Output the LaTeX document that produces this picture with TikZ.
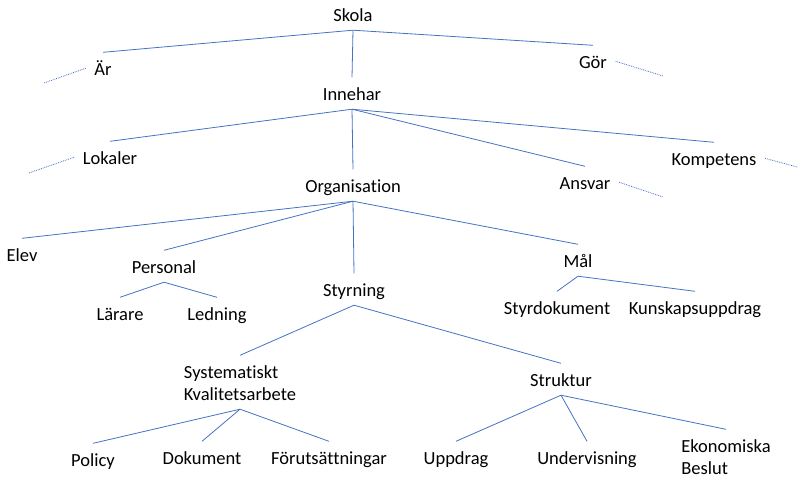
\documentclass[tikz,border=0pt]{standalone}
\usepackage{fontspec}
\setmainfont{Carlito}[Ligatures=CommonOff]
\definecolor{linkblue}{HTML}{4472C4}

\begin{document}
\begin{tikzpicture}[x=1pt,y=-1pt]

\tikzset{Label/.style = {font=\fontsize{18.5}{22}\selectfont, anchor=base, inner xsep=8.5pt, inner ysep=9pt, text height=13.5pt, text depth=0pt},
         LabelTwo/.style = {Label, align=left, text height=35.5pt},
         Link/.style = {draw=linkblue, line width=0.8pt},
         Loose/.style = {Link, densely dotted}}

\useasboundingbox (0,0) rectangle (799,477);

\node[Label] (skola) at (353,21) {Skola};
\node[Label] (ar) at (103,75) {Är};
\node[Label] (gor) at (593,68) {Gör};
\node[Label] (inne) at (352,100) {Innehar};
\node[Label] (lok) at (110,164) {Lokaler};
\node[Label] (org) at (353,192) {Organisation};
\node[Label] (ansvar) at (585,189) {Ansvar};
\node[Label] (komp) at (714,165) {Kompetens};
\node[Label] (elev) at (22,261) {Elev};
\node[Label] (pers) at (164,273) {Personal};
\node[Label] (styr) at (354,296) {Styrning};
\node[Label] (mal) at (578,267) {Mål};
\node[Label] (lar) at (120,320) {Lärare};
\node[Label] (led) at (217,320) {Ledning};
\node[Label] (styrdok) at (557,314) {Styrdokument};
\node[Label] (kunsk) at (695,314) {Kunskapsuppdrag};
\node[LabelTwo] (sys) at (240,400) {Systematiskt\\Kvalitetsarbete};
\node[Label] (strukt) at (561,386) {Struktur};
\node[Label] (policy) at (93,466) {Policy};
\node[Label] (dok) at (202,464) {Dokument};
\node[Label] (forut) at (329,464) {Förutsättningar};
\node[Label] (uppdrag) at (456,464) {Uppdrag};
\node[Label] (underv) at (587,464) {Undervisning};
\node[LabelTwo] (ekon) at (726,474) {Ekonomiska\\Beslut};

\coordinate (arEnd) at (44,83);
\coordinate (gorEnd) at (663,76);
\coordinate (lokEnd) at (29,173);
\coordinate (kompEnd) at (797,167);
\coordinate (ansvarEnd) at (663,197);

\foreach \c in {ar,inne,gor} \draw[Link] (skola.south) -- (\c.north);
\foreach \c in {lok,org,ansvar,komp} \draw[Link] (inne.south) -- (\c.north);
\foreach \c in {elev,pers,styr,mal} \draw[Link] (org.south) -- (\c.north);
\foreach \c in {lar,led} \draw[Link] (pers.south) -- (\c.north);
\foreach \c in {styrdok,kunsk} \draw[Link] (mal.south) -- (\c.north);
\foreach \c in {sys,strukt} \draw[Link] (styr.south) -- (\c.north);
\foreach \c in {policy,dok,forut} \draw[Link] (sys.south) -- (\c.north);
\foreach \c in {uppdrag,underv,ekon} \draw[Link] (strukt.south) -- (\c.north);

\draw[Loose] (ar.west) -- (arEnd);
\draw[Loose] (lok.west) -- (lokEnd);
\draw[Loose] (gor.east) -- (gorEnd);
\draw[Loose] (ansvar.east) -- (ansvarEnd);
\draw[Loose] (komp.east) -- (kompEnd);

\end{tikzpicture}
\end{document}
